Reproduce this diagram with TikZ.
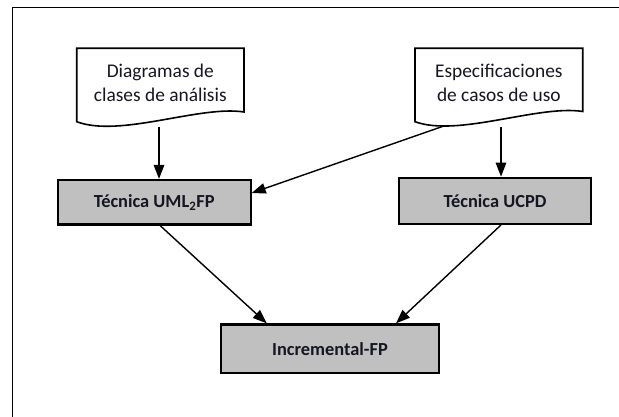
\documentclass[tikz,border=0pt]{standalone}
\usepackage{fontspec}
\setmainfont{Carlito}
\usetikzlibrary{arrows.meta}
\definecolor{boxfill}{RGB}{192,192,192}
\definecolor{inkc}{RGB}{22,22,34}
\tikzset{
  frameline/.style={line width=1.5pt, draw=black},
  docline/.style={line width=1.6pt, draw=black, fill=white, line join=miter},
  doctext/.style={align=center, text=inkc, inner sep=0pt,
    font=\fontsize{19.4}{24.5}\selectfont},
  procbox/.style={rectangle, draw=black, fill=boxfill, line width=2.2pt,
    text=inkc, font=\bfseries\fontsize{18.4}{22}\selectfont, inner sep=0pt},
  flow/.style={line width=1.4pt, -{Triangle[length=14pt,width=10.5pt]}},
}
\begin{document}
\begin{tikzpicture}[x=1pt, y=-1pt]
  \useasboundingbox (0,0) rectangle (619,417);
  \fill[white] (0,0) rectangle (619,417);

  % outer frame (continues past the right and lower edges)
  \draw[frameline] (12.3,7.7) rectangle (660,460);

  % input documents
  \draw[docline] (76.7,48.3) -- (244,48.3) -- (244,112)
    .. controls (200,105) and (120,138) .. (76.7,121.7) -- cycle;
  \node[doctext] (doc1) at (160.3,83) {Diagramas de\\clases de análisis};

  \draw[docline] (415,48.3) -- (582.7,48.3) -- (582.7,111.5)
    .. controls (538.5,104.5) and (458.3,137.5) .. (415,121.7) -- cycle;
  \node[doctext] (doc2) at (498.8,83) {Especificaciones\\de casos de uso};

  \coordinate (doc1out) at (159,127);
  \coordinate (doc2out) at (501,127);
  \coordinate (doc2side) at (443,126.3);

  % processing steps
  \node[procbox, minimum width=192.8pt, minimum height=44.5pt] (uml)
    at (154.2,202.3) {Técnica UML\textsubscript{2}FP};
  \node[procbox, minimum width=191.8pt, minimum height=46.1pt] (ucpd)
    at (495,200.8) {Técnica UCPD};
  \node[procbox, minimum width=217.8pt, minimum height=48.5pt] (inc)
    at (330,348.7) {Incremental-FP};

  % flows
  \draw[flow] (doc1out) -- (doc1out |- uml.north);
  \draw[flow] (doc2out) -- (doc2out |- ucpd.north);
  \draw[flow] (doc2side) -- ([yshift=9.3pt]uml.east);
  \draw[flow] ([xshift=6pt]uml.south) -- ([xshift=-63.3pt]inc.north);
  \draw[flow] ([xshift=6pt]ucpd.south) -- ([xshift=66pt]inc.north);
\end{tikzpicture}
\end{document}
